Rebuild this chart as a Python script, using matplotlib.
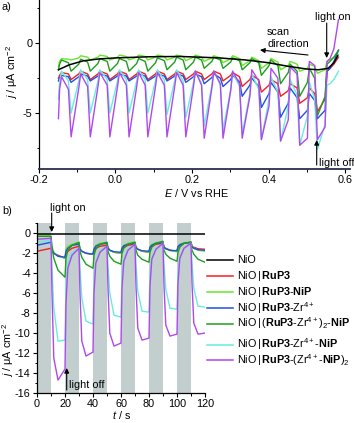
import matplotlib
matplotlib.use('Agg')
import matplotlib.pyplot as plt
from matplotlib.lines import Line2D
from matplotlib.patches import FancyArrowPatch
from matplotlib.ticker import MultipleLocator, FormatStrFormatter

# ---------------- data: panel a (chopped-light LSV) ----------------
# light switched on at E_on, off at E_off (scan runs from +0.58 V downwards)
E_on = [-0.140, -0.090, -0.040, 0.011, 0.061, 0.110, 0.160, 0.209, 0.257,
        0.306, 0.356, 0.406, 0.456, 0.506, 0.552]
E_off = [-0.148, -0.115, -0.065, -0.014, 0.036, 0.085, 0.135, 0.184, 0.232,
         0.281, 0.331, 0.381, 0.431, 0.481, 0.527]
E_head = [0.582, 0.570, 0.560]

black_E = [-0.148, -0.12, -0.083, -0.04, 0.004, 0.09, 0.17, 0.27, 0.34, 0.40,
           0.45, 0.50, 0.53, 0.555, 0.57, 0.58]
black_j = [-1.9, -1.55, -1.26, -1.12, -1.05, -0.97, -0.95, -1.05, -1.2, -1.4,
           -1.65, -1.85, -1.9, -1.8, -1.4, -0.9]

# pk: current at light-on, a: shortly after light-on, lo: at light-off,
# b: shortly after light-off (periods 1..14), head: start of the scan
red_head = [-1.0, -1.5, -1.8]
red_pk = [-2.1, -2.0, -2.0, -2.0, -2.0, -2.0, -2.0, -2.0, -2.0, -2.1, -2.3, -2.6, -2.9, -3.2, -2.0]
red_a = [-2.3, -2.2, -2.2, -2.2, -2.2, -2.2, -2.2, -2.2, -2.2, -2.3, -2.6, -3.0, -3.4, -3.9, -4.0]
red_lo = [-2.5, -2.6, -2.6, -2.6, -2.6, -2.6, -2.6, -2.6, -2.6, -2.7, -3.1, -3.5, -3.8, -4.3, -4.9]
red_b = [-2.2, -2.2, -2.2, -2.2, -2.2, -2.2, -2.2, -2.2, -2.2, -2.4, -2.6, -2.9, -3.2, -3.6]

lime_head = [-0.8, -1.0, -1.2]
lime_pk = [-1.1, -0.9, -0.85, -0.85, -0.85, -0.85, -0.85, -0.85, -0.9, -0.9, -1.0, -1.1, -1.3, -1.5, -1.3]
lime_a = [-1.3, -1.05, -1.0, -1.0, -1.0, -1.0, -1.0, -1.0, -1.05, -1.1, -1.25, -1.4, -1.6, -1.8, -1.9]
lime_lo = [-1.7, -1.2, -1.2, -1.2, -1.2, -1.2, -1.2, -1.25, -1.3, -1.4, -1.6, -1.8, -1.9, -2.0, -2.15]
lime_b = [-1.15, -1.0, -0.95, -0.95, -0.95, -0.95, -0.95, -1.0, -1.05, -1.1, -1.25, -1.35, -1.5, -1.65]

blue_head = [-0.5, -1.3, -1.8]
blue_pk = [-2.3, -2.2, -2.2, -2.2, -2.2, -2.2, -2.2, -2.2, -2.2, -2.3, -2.5, -2.8, -3.2, -3.6, -2.0]
blue_a = [-2.45, -2.4, -2.35, -2.35, -2.35, -2.35, -2.35, -2.4, -2.45, -2.6, -3.0, -3.6, -4.3, -4.8, -4.8]
blue_lo = [-2.7, -2.8, -2.7, -2.7, -2.7, -2.7, -2.7, -2.8, -2.9, -3.1, -3.8, -4.6, -5.3, -5.4, -5.4]
blue_b = [-2.4, -2.35, -2.35, -2.35, -2.35, -2.35, -2.35, -2.4, -2.5, -2.75, -3.1, -3.5, -3.9, -4.1]

dgreen_head = [-0.5, -1.0, -1.3]
dgreen_pk = [-1.2, -1.15, -1.1, -1.1, -1.1, -1.05, -1.0, -1.0, -1.0, -1.05, -1.1, -1.2, -1.5, -1.8, -1.5]
dgreen_a = [-1.5, -1.5, -1.45, -1.45, -1.45, -1.4, -1.35, -1.35, -1.3, -1.35, -1.4, -1.6, -2.1, -2.8, -3.8]
dgreen_lo = [-1.9, -2.0, -2.0, -2.0, -2.0, -2.0, -1.9, -1.9, -1.8, -1.8, -1.9, -2.3, -2.9, -3.8, -5.2]
dgreen_b = [-1.4, -1.35, -1.3, -1.3, -1.3, -1.25, -1.2, -1.2, -1.2, -1.25, -1.4, -1.6, -2.0, -2.5]

cyan_head = [-2.0, -2.6, -2.9]
cyan_pk = [-2.0, -1.9, -1.9, -1.9, -1.9, -1.9, -1.9, -2.0, -2.0, -2.1, -2.2, -2.4, -2.6, -2.8, -3.0]
cyan_a = [-2.8, -2.7, -2.7, -2.7, -2.7, -2.7, -2.7, -2.8, -3.0, -3.3, -3.6, -4.0, -4.5, -5.2, -5.8]
cyan_lo = [-4.0, -5.0, -5.0, -5.0, -5.0, -5.0, -5.1, -5.3, -5.9, -6.2, -6.5, -6.9, -7.0, -7.3, -7.6]
cyan_b = [-2.7, -2.6, -2.6, -2.6, -2.6, -2.65, -2.7, -2.9, -3.0, -3.1, -3.3, -3.5, -3.7, -4.0]

purple_head = [1.7, -0.4, -1.1]
purple_pk = [-2.4, -2.2, -2.1, -2.1, -2.1, -2.1, -2.1, -2.0, -2.0, -2.0, -1.9, -1.8, -1.7, -1.3, -1.3]
purple_a = [-3.3, -3.2, -3.1, -3.1, -3.1, -3.1, -3.1, -3.1, -3.2, -3.4, -3.8, -4.5, -5.5, -6.8, -6.0]
purple_lo = [-5.4, -6.7, -6.7, -6.7, -6.7, -6.7, -6.7, -6.7, -6.8, -6.8, -6.8, -6.9, -7.0, -7.3, -6.9]
purple_b = [-3.3, -3.1, -3.0, -3.0, -3.0, -3.0, -3.0, -3.0, -2.9, -2.9, -2.7, -2.5, -2.2, -1.6]

# ---------------- data: panel b (chopped-light chronoamperometry) ----------------
t = [0,
     10, 10.7, 12, 15, 20, 20.7, 22, 25,
     30, 30.7, 32, 35, 40, 40.7, 42, 45,
     50, 50.7, 52, 55, 60, 60.7, 62, 65,
     70, 70.7, 72, 75, 80, 80.7, 82, 85,
     90, 90.7, 92, 95, 100, 100.7, 102, 105,
     110, 110.7, 112, 115, 120]

nio_t = [0, 120]
nio_j = [-0.1, -0.1]

red_t = [-1.8,
         -1.5, -1.8, -2.0, -2.2, -2.5, -2.0, -1.8, -1.5,
         -1.3, -1.6, -1.8, -2.0, -2.1, -1.7, -1.5, -1.3,
         -1.2, -1.5, -1.7, -1.9, -2.0, -1.6, -1.4, -1.2,
         -1.1, -1.4, -1.6, -1.8, -1.9, -1.5, -1.3, -1.1,
         -1.0, -1.4, -1.5, -1.7, -1.8, -1.4, -1.2, -1.0,
         -0.9, -1.3, -1.4, -1.55, -1.6]
lime_t = [-0.3,
          -0.3, -1.3, -1.9, -2.3, -2.5, -1.6, -1.3, -1.1,
          -0.9, -1.5, -1.8, -2.0, -2.1, -1.5, -1.2, -1.0,
          -0.9, -1.4, -1.7, -1.9, -2.0, -1.4, -1.2, -1.0,
          -0.85, -1.35, -1.6, -1.8, -1.9, -1.35, -1.1, -0.95,
          -0.85, -1.3, -1.55, -1.75, -1.85, -1.3, -1.1, -0.95,
          -0.85, -1.3, -1.5, -1.7, -1.8]
blue_t = [-1.2,
          -0.9, -1.6, -2.0, -2.3, -2.4, -1.8, -1.5, -1.2,
          -1.1, -1.6, -1.8, -2.0, -2.1, -1.6, -1.3, -1.1,
          -1.0, -1.5, -1.7, -1.85, -1.9, -1.5, -1.25, -1.1,
          -1.0, -1.45, -1.6, -1.75, -1.8, -1.4, -1.2, -1.0,
          -0.95, -1.4, -1.55, -1.7, -1.75, -1.35, -1.15, -1.0,
          -0.9, -1.35, -1.5, -1.65, -1.7]
dgreen_t = [-0.3,
            -0.3, -1.5, -2.5, -3.7, -4.4, -2.5, -1.7, -1.2,
            -0.9, -1.8, -2.4, -3.1, -3.5, -2.2, -1.6, -1.1,
            -0.9, -1.8, -2.3, -2.8, -3.1, -2.0, -1.5, -1.1,
            -0.9, -1.7, -2.2, -2.6, -2.9, -1.9, -1.4, -1.0,
            -0.8, -1.7, -2.1, -2.5, -2.8, -1.9, -1.4, -1.0,
            -0.9, -1.7, -2.1, -2.6, -2.9]
cyan_t = [-0.9,
          -0.7, -3.5, -7.5, -10.8, -10.7, -5.0, -3.0, -2.0,
          -1.5, -3.5, -6.5, -8.8, -9.1, -4.5, -2.8, -1.8,
          -1.3, -3.3, -6.0, -8.2, -8.4, -4.2, -2.6, -1.6,
          -1.1, -3.2, -5.8, -7.8, -7.9, -4.0, -2.5, -1.5,
          -1.0, -3.1, -5.6, -7.5, -7.6, -4.0, -2.4, -1.5,
          -1.0, -3.0, -5.5, -7.3, -7.4]
purple_t = [-0.6,
            -0.5, -6.0, -12.5, -14.7, -13.6, -7.0, -3.5, -2.2,
            -1.5, -6.0, -10.8, -12.3, -11.9, -6.0, -3.0, -1.9,
            -1.3, -5.5, -10.0, -11.3, -11.0, -5.5, -2.8, -1.7,
            -1.1, -5.3, -9.5, -10.7, -10.5, -5.3, -2.6, -1.6,
            -1.0, -5.2, -9.2, -10.3, -10.1, -5.0, -2.5, -1.5,
            -1.0, -5.0, -9.0, -10.1, -10.0]

dark_starts = [0, 20, 40, 60, 80, 100]

labels = ['NiO',
          r'NiO$\,|\,$$\mathbf{RuP3}$',
          r'NiO$\,|\,$$\mathbf{RuP3}$-$\mathbf{NiP}$',
          r'NiO$\,|\,$$\mathbf{RuP3}$-Zr$^{4+}$',
          r'NiO$\,|\,$($\mathbf{RuP3}$-Zr$^{4+}$)$_2$-$\mathbf{NiP}$',
          r'NiO$\,|\,$$\mathbf{RuP3}$-Zr$^{4+}$-$\mathbf{NiP}$',
          r'NiO$\,|\,$$\mathbf{RuP3}$-(Zr$^{4+}$-$\mathbf{NiP}$)$_2$']
colors = ['#000000', '#f22020', '#66e82a', '#1f4fe6', '#1e9e1e', '#66eedb', '#b048ee']

# ---------------- style ----------------
plt.rcParams.update({
    'font.family': ['Liberation Sans', 'DejaVu Sans'],
    'font.size': 7.8,
    'mathtext.fontset': 'custom',
    'mathtext.rm': 'Liberation Sans',
    'mathtext.it': 'Liberation Sans:italic',
    'mathtext.bf': 'Liberation Sans:bold',
    'axes.unicode_minus': False,
    'axes.linewidth': 0.9,
    'xtick.major.size': 3, 'ytick.major.size': 3,
    'xtick.minor.size': 1.8, 'ytick.minor.size': 1.8,
    'xtick.major.width': 0.8, 'ytick.major.width': 0.8,
    'xtick.minor.width': 0.7, 'ytick.minor.width': 0.7,
    'xtick.major.pad': 1.5, 'ytick.major.pad': 1.5,
})

W, H = 354, 423
fig = plt.figure(figsize=(W / 100, H / 100), dpi=100)


def P(x, y):
    return (x / W, 1 - y / H)


def chop(head, pk, a, lo, b):
    xs = list(E_head)
    ys = list(head)
    for k in range(len(E_on) - 1, -1, -1):
        xs += [E_on[k], E_on[k] - 0.005, E_off[k]]
        ys += [pk[k], a[k], lo[k]]
        if k >= 1:
            xs.append(E_off[k] - 0.007)
            ys.append(b[k - 1])
    return xs, ys


# ---------------- panel a ----------------
axa = fig.add_axes([38.5 / W, 1 - 169 / H, (350 - 38.5) / W, 169 / H])
series_a = [(red_head, red_pk, red_a, red_lo, red_b),
            (lime_head, lime_pk, lime_a, lime_lo, lime_b),
            (blue_head, blue_pk, blue_a, blue_lo, blue_b),
            (dgreen_head, dgreen_pk, dgreen_a, dgreen_lo, dgreen_b),
            (cyan_head, cyan_pk, cyan_a, cyan_lo, cyan_b),
            (purple_head, purple_pk, purple_a, purple_lo, purple_b)]
for s, c in zip(series_a, colors[1:]):
    xs, ys = chop(*s)
    axa.plot(xs, ys, color=c, lw=1.0)
axa.plot(black_E, black_j, color='k', lw=1.1)
axa.set_xlim(-0.2, 0.612)
axa.set_ylim(-9.0, 3.09)
axa.xaxis.set_major_locator(MultipleLocator(0.2))
axa.xaxis.set_minor_locator(MultipleLocator(0.1))
axa.xaxis.set_major_formatter(FormatStrFormatter('%.1f'))
axa.yaxis.set_major_locator(MultipleLocator(5))
axa.yaxis.set_minor_locator(MultipleLocator(2.5))
for s in ['top', 'right']:
    axa.spines[s].set_visible(False)
axa.spines['bottom'].set_linewidth(1.3)
axa.spines['bottom'].set_color('#2a2f4a')

# ---------------- panel b ----------------
axb = fig.add_axes([37 / W, 1 - 393 / H, (205 - 37) / W, (393 - 223.3) / H])
for s0 in dark_starts:
    axb.axvspan(s0, s0 + 10, color='#c3cece', lw=0, zorder=0)
axb.plot(nio_t, nio_j, color=colors[0], lw=1.1)
for yv, c in zip([red_t, lime_t, blue_t, dgreen_t, cyan_t, purple_t], colors[1:]):
    axb.plot(t, yv, color=c, lw=1.0)
axb.set_xlim(0, 120)
axb.set_ylim(-16, 1)
axb.xaxis.set_major_locator(MultipleLocator(20))
axb.xaxis.set_minor_locator(MultipleLocator(10))
axb.yaxis.set_major_locator(MultipleLocator(2))
axb.yaxis.set_minor_locator(MultipleLocator(1))
for s in ['top', 'right']:
    axb.spines[s].set_visible(False)

# ---------------- texts ----------------
fig.text(*P(2, 7), 'a)', va='center', ha='left')
fig.text(*P(2, 211), 'b)', va='center', ha='left')
fig.text(*P(12, 72), r'$j$ / μA cm$^{-2}$', rotation=90, ha='center', va='center')
fig.text(*P(196, 193), r'$E$ / V vs RHE', ha='center', va='center')
fig.text(*P(8.5, 350), r'$j$ / μA cm$^{-2}$', rotation=90, ha='center', va='center')
fig.text(*P(122, 415), r'$t$ / s', ha='center', va='center')

fig.text(*P(267, 32), 'scan', ha='left', va='center')
fig.text(*P(267, 44), 'direction', ha='left', va='center')
fig.text(*P(315, 17), 'light on', ha='left', va='center')
fig.text(*P(319, 163), 'light off', ha='left', va='center')
fig.text(*P(50, 208), 'light on', ha='left', va='center')
fig.text(*P(69, 385), 'light off', ha='left', va='center')

arrow = dict(arrowstyle='-|>', lw=0.8, color='k', mutation_scale=7, shrinkA=0, shrinkB=0)
for start, end in [((308, 55), (260, 50)), ((326.7, 23), (326.7, 58)),
                   ((316.7, 165), (316.7, 140)), ((51.7, 213), (51.7, 232)),
                   ((66.7, 390), (66.7, 368))]:
    fig.add_artist(FancyArrowPatch(P(*start), P(*end), transform=fig.transFigure, **arrow))

# ---------------- legend ----------------
leg_y = [260, 276, 292, 308, 323.5, 344.5, 360]
for yy, c, lab in zip(leg_y, colors, labels):
    fig.add_artist(Line2D([207 / W, 233 / W], [1 - yy / H] * 2,
                          transform=fig.transFigure, color=c, lw=1.1))
    fig.text(237.5 / W, 1 - yy / H, lab, ha='left', va='center')

fig.savefig('out.png', dpi=100)
